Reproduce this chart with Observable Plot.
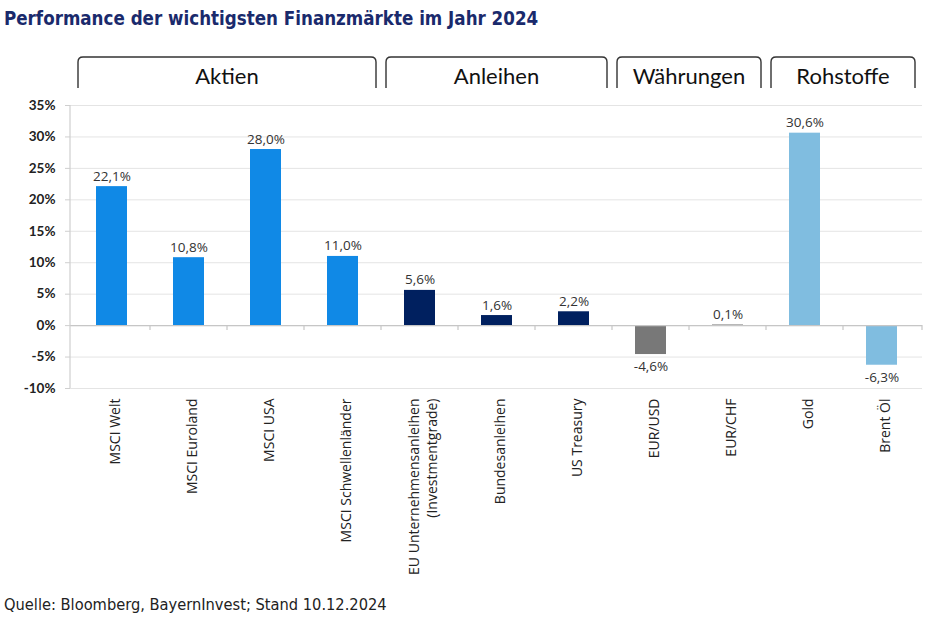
<!DOCTYPE html>
<html>
<head>
<meta charset="utf-8">
<script src="https://cdn.jsdelivr.net/npm/d3@7"></script>
<script src="https://cdn.jsdelivr.net/npm/@observablehq/plot@0.6"></script>
<style>
  html, body { margin: 0; padding: 0; background: #fff; }
  body { width: 930px; height: 624px; overflow: hidden; }
  #title { height: 36px; line-height: 36px; padding-left: 4px; font-family: "DejaVu Sans Condensed", sans-serif; font-weight: bold; font-size: 20px; color: #1a2a6c; white-space: nowrap; }
  #title span { display: inline-block; transform: scaleX(0.93); transform-origin: left center; }
  #caption { height: 30px; line-height: 26px; padding-left: 4px; font-family: "DejaVu Sans Condensed", sans-serif; font-size: 16.3px; color: #222; white-space: nowrap; }
  svg { display: block; }
</style>
</head>
<body>
<div id="title"><span>Performance der wichtigsten Finanzmärkte im Jahr 2024</span></div>
<div id="chart"></div>
<div id="caption">Quelle: Bloomberg, BayernInvest; Stand 10.12.2024</div>
<script>
const categories = ["MSCI Welt", "MSCI Euroland", "MSCI USA", "MSCI Schwellenländer",
  "EU Unternehmensanleihen\n(Investmentgrade)", "Bundesanleihen", "US Treasury",
  "EUR/USD", "EUR/CHF", "Gold", "Brent Öl"];
const values = [22.1, 10.8, 28.0, 11.0, 5.6, 1.6, 2.2, -4.6, 0.1, 30.6, -6.3];
const groups = ["Aktien", "Aktien", "Aktien", "Aktien", "Anleihen", "Anleihen", "Anleihen",
  "Währungen", "Währungen", "Rohstoffe", "Rohstoffe"];
const groupNames = ["Aktien", "Anleihen", "Währungen", "Rohstoffe"];
const groupColors = ["#1089e6", "#00205f", "#787878", "#80bde0"];
const yTicks = [-10, -5, 0, 5, 10, 15, 20, 25, 30, 35];

const data = categories.map((c, i) => ({cat: c, value: values[i], group: groups[i]}));
const fmt = v => v.toFixed(1).replace(".", ",") + "%";
const labelFont = "'Open Sans', Lato, sans-serif";

const plot = Plot.plot({
  width: 930,
  height: 556,
  marginTop: 69,
  marginBottom: 204,
  marginLeft: 70,
  marginRight: 8,
  style: {fontFamily: labelFont, background: "#fff"},
  x: {domain: categories, padding: 0, axis: null},
  y: {domain: [-10, 35], axis: null},
  color: {domain: groupNames, range: groupColors},
  marks: [
    Plot.ruleY(yTicks, {stroke: "#e4e4e4", strokeWidth: 1}),
    Plot.axisY({ticks: yTicks, tickSize: 5, tickPadding: 10, tickFormat: d => d + "%",
      fontWeight: "bold", fontSize: 13.5, fontFamily: "Lato, sans-serif",
      stroke: "#cfcfcf", fill: "#222", label: null}),
    Plot.barY(data, {x: "cat", y: "value", fill: "group", insetLeft: 23, insetRight: 23}),
    Plot.ruleY([0], {stroke: "#c6c6c6", strokeWidth: 1.2}),
    Plot.text(data.filter(d => d.value >= 0), {x: "cat", y: "value", text: d => fmt(d.value),
      lineAnchor: "bottom", dy: -6, fontSize: 13.5, fill: "#333"}),
    Plot.text(data.filter(d => d.value < 0), {x: "cat", y: "value", text: d => fmt(d.value),
      lineAnchor: "top", dy: 7, fontSize: 13.5, fill: "#333"}),
    Plot.text(data, {x: "cat", text: "cat", frameAnchor: "bottom", rotate: -90,
      textAnchor: "end", lineAnchor: "middle", lineHeight: 1.35, dy: 10, dx: 2,
      fontSize: 14, fill: "#222"})
  ]
});

const xs = plot.scale("x");
const ys = plot.scale("y");
const bw = xs.bandwidth;
const svg = d3.select(plot);

// vertical y axis line
svg.append("line")
  .attr("x1", xs.range[0]).attr("x2", xs.range[0])
  .attr("y1", ys.apply(35)).attr("y2", ys.apply(-10))
  .attr("stroke", "#cfcfcf").attr("stroke-width", 1.2);

// category ticks under zero line
const tk = svg.append("g").attr("stroke", "#c6c6c6").attr("stroke-width", 1.2);
categories.slice(1).forEach(c => {
  const xp = xs.apply(c);
  tk.append("line").attr("x1", xp).attr("x2", xp)
    .attr("y1", ys.apply(0)).attr("y2", ys.apply(0) + 5);
});
tk.append("line").attr("x1", xs.range[1]).attr("x2", xs.range[1])
  .attr("y1", ys.apply(0)).attr("y2", ys.apply(0) + 5);

// group brackets
const yt = 21, yb = 52, r = 5;
const gb = svg.append("g");
groupNames.forEach(g => {
  const cats = data.filter(d => d.group === g).map(d => d.cat);
  const x0 = xs.apply(cats[0]) + 5;
  const x1 = xs.apply(cats[cats.length - 1]) + bw - 5;
  gb.append("path")
    .attr("d", `M${x0},${yb} L${x0},${yt + r} Q${x0},${yt} ${x0 + r},${yt} L${x1 - r},${yt} Q${x1},${yt} ${x1},${yt + r} L${x1},${yb}`)
    .attr("fill", "none").attr("stroke", "#333").attr("stroke-width", 1.4);
  gb.append("text")
    .attr("x", (x0 + x1) / 2).attr("y", 42)
    .attr("text-anchor", "middle").attr("dominant-baseline", "middle")
    .attr("font-family", "Lato, 'Open Sans', sans-serif").attr("font-size", 22)
    .attr("fill", "#111").text(g);
});

document.getElementById("chart").appendChild(plot);
</script>
</body>
</html>
